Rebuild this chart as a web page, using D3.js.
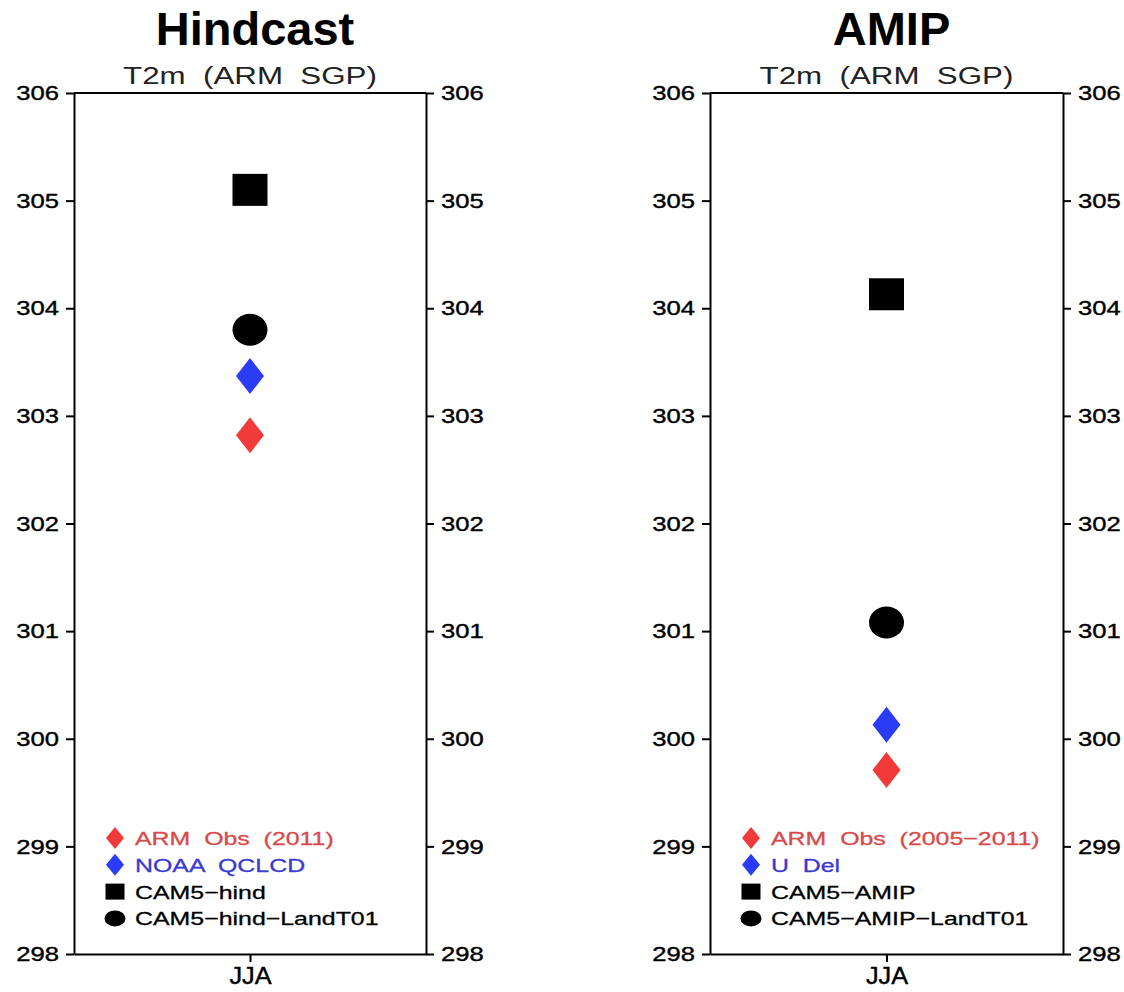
<!DOCTYPE html>
<html>
<head>
<meta charset="utf-8">
<script src="https://cdn.jsdelivr.net/npm/d3@7"></script>
<style>
  body { margin: 0; background: #fff; }
  text { font-family: "Liberation Sans", Arial, sans-serif; white-space: pre; }
</style>
</head>
<body>
<div id="chart"></div>
<script>
// data
const categories = ["JJA"];
const yTicks = [298, 299, 300, 301, 302, 303, 304, 305, 306];
const panelTitles = ["Hindcast", "AMIP"];
const subTitle = "T2m  (ARM  SGP)";
const hindSeries = ["ARM  Obs  (2011)", "NOAA  QCLCD", "CAM5\u2212hind", "CAM5\u2212hind\u2212LandT01"];
const hindValues = [302.82, 303.37, 305.10, 303.80];
const amipSeries = ["ARM  Obs  (2005\u22122011)", "U  Del", "CAM5\u2212AMIP", "CAM5\u2212AMIP\u2212LandT01"];
const amipValues = [299.71, 300.13, 304.13, 301.08];
const markerTypes = ["diamond", "diamond", "square", "circle"];
const markerColors = ["#f23a3a", "#2a3cf5", "#000", "#000"];
const textColors = ["#d84a4a", "#3a3ad0", "#000", "#000"];

const width = 1124, height = 992;
const plotTop = 93, plotBottom = 954;
const panels = [
  {title: panelTitles[0], x0: 74, x1: 426, names: hindSeries, values: hindValues},
  {title: panelTitles[1], x0: 710, x1: 1063, names: amipSeries, values: amipValues}
];

const svg = d3.select("#chart").append("svg")
  .attr("width", width)
  .attr("height", height);

// stretch text horizontally (the original font is wide)
function stretch(sel, f) {
  sel.each(function() {
    const len = this.getComputedTextLength();
    d3.select(this).attr("textLength", len * f).attr("lengthAdjust", "spacingAndGlyphs");
  });
}

function marker(g, type, cx, cy, w, h, color) {
  if (type === "square") {
    g.append("rect").attr("x", cx - w / 2).attr("y", cy - h / 2)
      .attr("width", w).attr("height", h).attr("fill", color);
  } else if (type === "circle") {
    g.append("ellipse").attr("cx", cx).attr("cy", cy)
      .attr("rx", w / 2).attr("ry", h / 2).attr("fill", color);
  } else {
    g.append("path")
      .attr("d", `M${cx},${cy - h / 2}L${cx + w / 2},${cy}L${cx},${cy + h / 2}L${cx - w / 2},${cy}Z`)
      .attr("fill", color);
  }
}

const y = d3.scaleLinear().domain([298, 306]).range([plotBottom, plotTop]);

panels.forEach(p => {
  const g = svg.append("g");
  const x = d3.scalePoint().domain(categories).range([p.x0, p.x1]).padding(0.5);
  const cx = (p.x0 + p.x1) / 2;

  g.append("text")
    .attr("x", cx + 5).attr("y", 45)
    .attr("text-anchor", "middle")
    .attr("font-size", 47).attr("font-weight", "bold")
    .text(p.title);

  g.append("text")
    .attr("x", cx).attr("y", 84)
    .attr("text-anchor", "middle")
    .attr("font-size", 23).attr("fill", "#222")
    .text(subTitle)
    .call(stretch, 1.36);

  // frame top
  g.append("line")
    .attr("x1", p.x0).attr("x2", p.x1)
    .attr("y1", plotTop).attr("y2", plotTop)
    .attr("stroke", "#000").attr("stroke-width", 2);

  const left = g.append("g").attr("transform", `translate(${p.x0},0)`)
    .call(d3.axisLeft(y).tickValues(yTicks).tickFormat(d3.format("d")).tickSize(8).tickSizeOuter(0).tickPadding(7));
  const right = g.append("g").attr("transform", `translate(${p.x1},0)`)
    .call(d3.axisRight(y).tickValues(yTicks).tickFormat(d3.format("d")).tickSize(8).tickSizeOuter(0).tickPadding(7));
  const bot = g.append("g").attr("transform", `translate(0,${plotBottom})`)
    .call(d3.axisBottom(x).tickSize(8).tickSizeOuter(0).tickPadding(6));

  [left, right, bot].forEach(a => {
    a.selectAll("path, line").attr("stroke", "#000").attr("stroke-width", 2);
    a.selectAll("text").attr("font-size", 21).attr("fill", "#000")
      .attr("stroke", "#000").attr("stroke-width", 0.4)
      .attr("font-family", "Liberation Sans, Arial, sans-serif");
  });
  left.selectAll("text").call(stretch, 1.22);
  right.selectAll("text").call(stretch, 1.22);
  bot.selectAll("text").attr("font-size", 23).call(stretch, 1.1);

  // points
  const pts = g.append("g");
  markerTypes.forEach((t, i) => {
    const px = x(categories[0]), py = y(p.values[i]);
    if (t === "diamond") marker(pts, t, px, py, 28, 36, markerColors[i]);
    else marker(pts, t, px, py, 35, 32, markerColors[i]);
  });

  // legend
  const leg = g.append("g");
  p.names.forEach((name, i) => {
    const ly = 838 + i * 26.8;
    const mx = p.x0 + 41;
    if (markerTypes[i] === "diamond") marker(leg, "diamond", mx, ly, 18, 22, markerColors[i]);
    else if (markerTypes[i] === "square") marker(leg, "square", mx, ly, 19, 16, markerColors[i]);
    else marker(leg, "circle", mx, ly, 21, 16, markerColors[i]);
    leg.append("text")
      .attr("x", p.x0 + 61).attr("y", ly + 7)
      .attr("font-size", 19).attr("fill", textColors[i])
      .attr("stroke", textColors[i]).attr("stroke-width", 0.3)
      .text(name)
      .call(stretch, 1.31);
  });
});
</script>
</body>
</html>
